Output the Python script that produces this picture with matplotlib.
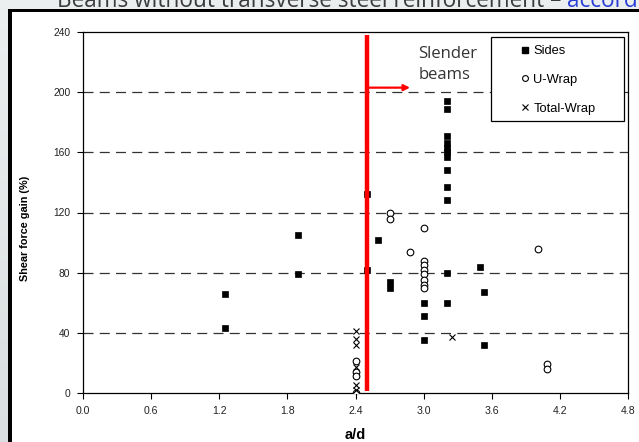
import numpy as np
import matplotlib
matplotlib.use("Agg")
import matplotlib.pyplot as plt
from matplotlib.patches import Rectangle
from matplotlib.lines import Line2D
from matplotlib.colors import LinearSegmentedColormap

# ---- data -------------------------------------------------------------
sides_x = [1.25, 1.25, 1.89, 1.89, 2.5, 2.5, 2.6, 2.7, 2.7,
           3.0, 3.0, 3.0,
           3.21, 3.21, 3.21, 3.21, 3.21, 3.21, 3.21, 3.21, 3.21, 3.21,
           3.21, 3.21, 3.5, 3.53, 3.53]
sides_y = [66, 43, 105, 79, 132, 82, 102, 74, 70,
           60, 51, 35,
           194, 189, 171, 166, 163, 160, 157, 148, 137, 128,
           80, 60, 84, 67, 32]

uwrap_x = [2.4, 2.4, 2.4, 2.4, 2.7, 2.7, 2.88,
           3.0, 3.0, 3.0, 3.0, 3.0, 3.0, 3.0, 3.0,
           4.01, 4.09, 4.09]
uwrap_y = [21, 14, 11, 0, 120, 116, 94,
           110, 88, 85, 82, 79, 75, 72, 70,
           96, 19, 16]

twrap_x = [2.4, 2.4, 2.4, 2.4, 2.4, 2.4, 3.25]
twrap_y = [41, 36, 32, 17, 5, 2, 37]

x_ticks = [0.0, 0.6, 1.2, 1.8, 2.4, 3.0, 3.6, 4.2, 4.8]
y_ticks = [0, 40, 80, 120, 160, 200, 240]

limit_ad = 2.5          # slender-beam limit
limit_span = (1, 238)   # vertical extent of the limit line
arrow_y = 203
arrow_end = 2.88

W, H = 639, 442
fig = plt.figure(figsize=(W / 100, H / 100), dpi=100)


def fx(px):
    return px / W


def fy(py):
    return 1 - py / H


# page background with a soft vertical gradient
bg = fig.add_axes([0, 0, 1, 1], zorder=-10)
grad = np.linspace(0, 1, 256).reshape(-1, 1)
cmap = LinearSegmentedColormap.from_list("bg", ["#eceff0", "#d9dee0"])
bg.imshow(grad, aspect="auto", cmap=cmap, extent=[0, 1, 0, 1])
bg.set_axis_off()
# white slide panel with black frame
bg.add_patch(Rectangle((fx(12), 0), 1 - fx(12), fy(12), transform=bg.transAxes,
                       facecolor="white", edgecolor="none"))
bg.add_patch(Rectangle((fx(8), 0), fx(4), fy(9), transform=bg.transAxes,
                       facecolor="black", edgecolor="none"))
bg.add_patch(Rectangle((fx(8), fy(12.3)), 1 - fx(8), fy(9) - fy(12.3),
                       transform=bg.transAxes, facecolor="black", edgecolor="none"))

# slide heading (runs past the top and right of the slide)
t1 = fig.text(fx(57), fy(7.0), "Beams without transverse steel reinforcement \u2013 ",
              family="Open Sans", fontsize=16.3, color="#3c3c3c", va="baseline")
fig.canvas.draw()
bb = t1.get_window_extent(fig.canvas.get_renderer())
fig.text(bb.x1 / W, fy(7.0), "according",
         family="Open Sans", fontsize=16.3, color="#2b3fd4", va="baseline")

# ---- chart ------------------------------------------------------------
ax = fig.add_axes([fx(83), fy(393), fx(628) - fx(83), fy(32) - fy(393)])
ax.set_xlim(0, 4.8)
ax.set_ylim(0, 240)

for yv in y_ticks[1:-1]:
    ax.axhline(yv, color="#333333", lw=0.9, ls=(0, (8, 5)), zorder=1)

ax.plot(sides_x, sides_y, ls="none", marker="s", ms=4.6, mfc="black",
        mec="black", mew=0.5, zorder=4, label="Sides")
ax.plot(uwrap_x, uwrap_y, ls="none", marker="o", ms=4.8, mfc="white",
        mec="black", mew=0.8, zorder=4, label="U-Wrap")
ax.plot(twrap_x, twrap_y, ls="none", marker="x", ms=4.6, mec="black",
        mew=0.8, zorder=4, label="Total-Wrap")

ax.plot([limit_ad, limit_ad], list(limit_span), color="#ff0000", lw=3.2,
        solid_capstyle="butt", zorder=5)
ax.annotate("", xy=(arrow_end, arrow_y), xytext=(limit_ad, arrow_y),
            arrowprops=dict(arrowstyle="-|>", color="#ff0000", lw=1.6,
                            mutation_scale=9, shrinkA=0, shrinkB=0),
            zorder=5)
ax.text(2.955, 231, "Slender\nbeams", family="Open Sans", fontsize=12,
        color="#333333", va="top", ha="left", linespacing=1.45)

ax.set_xticks(x_ticks)
ax.set_xticklabels([f"{v:.1f}" for v in x_ticks])
ax.set_yticks(y_ticks)
ax.tick_params(axis="both", direction="out", length=4, width=0.8,
               color="black", labelcolor="#222222")
ax.tick_params(axis="x", labelsize=7.6, pad=5)
ax.tick_params(axis="y", labelsize=7.4, pad=5)
for lab in ax.get_xticklabels() + ax.get_yticklabels():
    lab.set_family("Liberation Sans")
for s in ax.spines.values():
    s.set_color("black")
    s.set_linewidth(0.9)

fig.text(fx(355.5), fy(435), "a/d", family="Liberation Sans", fontsize=10.5,
         fontweight="bold", ha="center", va="center")
fig.text(fx(25), fy(228), "Shear force gain (%)", family="Liberation Sans",
         fontsize=7.8, fontweight="bold", ha="center", va="center",
         rotation=90)


# legend box, placed in axes fractions from pixel positions
def ax_px(px, py):
    return ((px - 83) / (628 - 83), (393 - py) / (393 - 32))


x0, y0 = ax_px(490.7, 120.7)
x1, y1 = ax_px(624, 37.3)
ax.add_patch(Rectangle((x0, y0), x1 - x0, y1 - y0, transform=ax.transAxes,
                       facecolor="white", edgecolor="black", lw=0.9, zorder=6))
handles = [
    Line2D([], [], ls="none", marker="s", ms=4.2, mfc="black", mec="black"),
    Line2D([], [], ls="none", marker="o", ms=4.2, mfc="white", mec="black", mew=0.8),
    Line2D([], [], ls="none", marker="x", ms=4.2, mec="black", mew=0.8),
]
lx, ly = ax_px(519, 80)
leg = ax.legend(handles, ["Sides", "U-Wrap", "Total-Wrap"], loc="center left",
                bbox_to_anchor=(lx, ly), frameon=False, borderpad=0,
                borderaxespad=0, handlelength=1.0, handletextpad=0.1,
                labelspacing=1.3, prop=dict(family="Liberation Sans", size=9.3))
leg.set_zorder(7)

fig.savefig("out.png", dpi=100)
